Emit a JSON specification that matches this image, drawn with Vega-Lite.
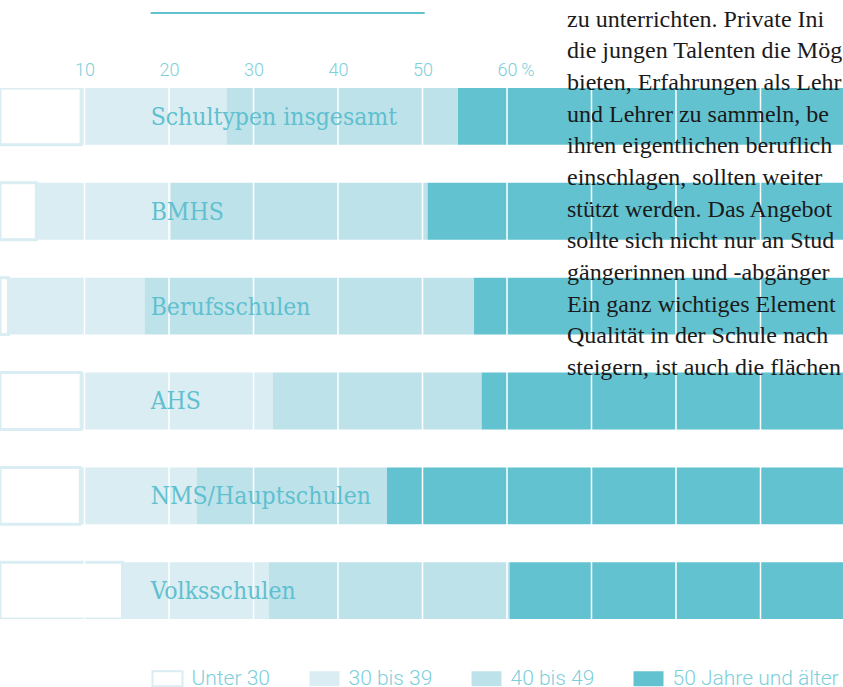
{
  "$schema": "https://vega.github.io/schema/vega-lite/v6.json",
  "autosize": "pad",
  "padding": {"left": 0, "top": 7, "right": 0, "bottom": 0},
  "bounds": "flush",
  "spacing": 74,
  "background": "white",
  "config": {"view": {"stroke": null}},
  "datasets": {
    "shares": [
      {"school": "Schultypen insgesamt", "group": "Unter 30", "rank": 1, "pct": 9.6},
      {"school": "Schultypen insgesamt", "group": "30 bis 39", "rank": 2, "pct": 17.2},
      {"school": "Schultypen insgesamt", "group": "40 bis 49", "rank": 3, "pct": 27.4},
      {"school": "Schultypen insgesamt", "group": "50 Jahre und älter", "rank": 4, "pct": 45.8},
      {"school": "BMHS", "group": "Unter 30", "rank": 1, "pct": 4.3},
      {"school": "BMHS", "group": "30 bis 39", "rank": 2, "pct": 15.9},
      {"school": "BMHS", "group": "40 bis 49", "rank": 3, "pct": 30.4},
      {"school": "BMHS", "group": "50 Jahre und älter", "rank": 4, "pct": 49.4},
      {"school": "Berufsschulen", "group": "Unter 30", "rank": 1, "pct": 1.0},
      {"school": "Berufsschulen", "group": "30 bis 39", "rank": 2, "pct": 16.1},
      {"school": "Berufsschulen", "group": "40 bis 49", "rank": 3, "pct": 39.0},
      {"school": "Berufsschulen", "group": "50 Jahre und älter", "rank": 4, "pct": 43.9},
      {"school": "AHS", "group": "Unter 30", "rank": 1, "pct": 9.6},
      {"school": "AHS", "group": "30 bis 39", "rank": 2, "pct": 22.7},
      {"school": "AHS", "group": "40 bis 49", "rank": 3, "pct": 24.7},
      {"school": "AHS", "group": "50 Jahre und älter", "rank": 4, "pct": 43.0},
      {"school": "NMS/Hauptschulen", "group": "Unter 30", "rank": 1, "pct": 9.5},
      {"school": "NMS/Hauptschulen", "group": "30 bis 39", "rank": 2, "pct": 13.8},
      {"school": "NMS/Hauptschulen", "group": "40 bis 49", "rank": 3, "pct": 22.5},
      {"school": "NMS/Hauptschulen", "group": "50 Jahre und älter", "rank": 4, "pct": 54.2},
      {"school": "Volksschulen", "group": "Unter 30", "rank": 1, "pct": 14.5},
      {"school": "Volksschulen", "group": "30 bis 39", "rank": 2, "pct": 17.3},
      {"school": "Volksschulen", "group": "40 bis 49", "rank": 3, "pct": 28.5},
      {"school": "Volksschulen", "group": "50 Jahre und älter", "rank": 4, "pct": 39.7}
    ],
    "schools": [
      {"school": "Schultypen insgesamt"},
      {"school": "BMHS"},
      {"school": "Berufsschulen"},
      {"school": "AHS"},
      {"school": "NMS/Hauptschulen"},
      {"school": "Volksschulen"}
    ],
    "grid": [
      {"pct": 10}, {"pct": 20}, {"pct": 30}, {"pct": 40}, {"pct": 50},
      {"pct": 60}, {"pct": 70}, {"pct": 80}, {"pct": 90}
    ],
    "topline": [{"start": 17.83, "end": 50.26}],
    "body": [
      {"line": 1, "text": "zu unterrichten. Private Ini"},
      {"line": 2, "text": "die jungen Talenten die Mög"},
      {"line": 3, "text": "bieten, Erfahrungen als Lehr"},
      {"line": 4, "text": "und Lehrer zu sammeln, be"},
      {"line": 5, "text": "ihren eigentlichen beruflich"},
      {"line": 6, "text": "einschlagen, sollten weiter"},
      {"line": 7, "text": "stützt werden. Das Angebot"},
      {"line": 8, "text": "sollte sich nicht nur an Stud"},
      {"line": 9, "text": "gängerinnen und -abgänger"},
      {"line": 10, "text": "Ein ganz wichtiges Element"},
      {"line": 11, "text": "Qualität in der Schule nach"},
      {"line": 12, "text": "steigern, ist auch die flächen"}
    ]
  },
  "vconcat": [
    {
      "width": 845,
      "height": 2,
      "data": {"name": "topline"},
      "mark": {"type": "rect", "color": "#62c2d0"},
      "encoding": {
        "x": {"field": "start", "type": "quantitative", "scale": {"domain": [0, 100], "nice": false}, "axis": null},
        "x2": {"field": "end"}
      }
    },
    {
      "width": 845,
      "height": 531.1,
      "layer": [
        {
          "layer": [
            {
              "data": {"name": "shares"},
              "mark": {"type": "bar", "strokeWidth": 3, "clip": true},
              "encoding": {
                "y": {
                  "field": "school", "type": "nominal",
                  "scale": {"domain": ["Schultypen insgesamt", "BMHS", "Berufsschulen", "AHS", "NMS/Hauptschulen", "Volksschulen"], "paddingInner": 0.4012, "paddingOuter": 0},
                  "axis": null
                },
                "x": {
                  "field": "pct", "type": "quantitative", "stack": "zero",
                  "scale": {"domain": [0, 100], "nice": false},
                  "axis": {
                    "orient": "top", "values": [10, 20, 30, 40, 50, 60],
                    "labelExpr": "datum.value == 60 ? '60\u2009%' : datum.label",
                    "labelAlign": {"condition": {"test": "datum.value == 60", "value": "left"}, "value": "center"},
                    "labelOffset": {"condition": {"test": "datum.value == 60", "value": -10}, "value": 0},
                    "domain": false, "ticks": false, "tickSize": 0, "grid": false,
                    "labelFont": "Roboto", "labelFontWeight": 300, "labelFontSize": 18,
                    "labelColor": "#7ecfdb", "labelPadding": 13, "labelBaseline": "alphabetic",
                    "labelFlush": false, "labelOverlap": false, "title": null
                  }
                },
                "order": {"field": "rank", "type": "quantitative"},
                "fill": {
                  "field": "group", "type": "nominal",
                  "scale": {"domain": ["Unter 30", "30 bis 39", "40 bis 49", "50 Jahre und älter"], "range": ["#ffffff", "#d9edf2", "#bee2ea", "#62c2d0"]},
                  "legend": {
                    "orient": "none", "legendX": 151.5, "legendY": 650.5, "direction": "horizontal",
                    "columns": 4, "columnPadding": 35, "title": null,
                    "symbolType": "M-1,-0.5H1V0.5H-1Z", "symbolSize": 900, "symbolStrokeWidth": 2,
                    "labelFont": "Roboto", "labelFontWeight": 300, "labelFontSize": 21, "labelLimit": 400,
                    "labelColor": "#7ecfdb", "labelOffset": 8
                  }
                },
                "stroke": {
                  "field": "group", "type": "nominal",
                  "scale": {"domain": ["Unter 30", "30 bis 39", "40 bis 49", "50 Jahre und älter"], "range": ["#d9edf2", "transparent", "transparent", "transparent"]},
                  "legend": {
                    "orient": "none", "legendX": 151.5, "legendY": 650.5, "direction": "horizontal",
                    "columns": 4, "columnPadding": 35, "title": null,
                    "symbolType": "M-1,-0.5H1V0.5H-1Z", "symbolSize": 900, "symbolStrokeWidth": 2,
                    "labelFont": "Roboto", "labelFontWeight": 300, "labelFontSize": 21, "labelLimit": 400,
                    "labelColor": "#7ecfdb", "labelOffset": 8
                  }
                }
              }
            },
            {
              "data": {"name": "grid"},
              "mark": {"type": "rule", "color": "#ffffff", "strokeWidth": 1.5},
              "encoding": {
                "x": {"field": "pct", "type": "quantitative"}
              }
            },
            {
              "data": {"name": "schools"},
              "mark": {"type": "text", "align": "left", "baseline": "middle", "dy": 1.5, "font": "DejaVu Serif Condensed, DejaVu Serif", "fontSize": 24.5, "color": "#5fc0cf"},
              "encoding": {
                "y": {
                  "field": "school", "type": "nominal",
                  "scale": {"domain": ["Schultypen insgesamt", "BMHS", "Berufsschulen", "AHS", "NMS/Hauptschulen", "Volksschulen"], "paddingInner": 0.4012, "paddingOuter": 0},
                  "axis": null
                },
                "x": {"datum": 17.83, "type": "quantitative"},
                "text": {"field": "school"}
              }
            }
          ]
        },
        {
          "data": {"name": "body"},
          "mark": {"type": "text", "align": "left", "baseline": "alphabetic", "font": "Liberation Serif", "fontSize": 24, "color": "#1a1a1a"},
          "encoding": {
            "x": {"datum": 67.1, "type": "quantitative"},
            "y": {"field": "line", "type": "quantitative", "scale": {"domain": [2.936, 19.706], "reverse": true, "nice": false, "zero": false}, "axis": null},
            "text": {"field": "text"}
          }
        }
      ],
      "resolve": {"scale": {"y": "independent"}}
    }
  ]
}
